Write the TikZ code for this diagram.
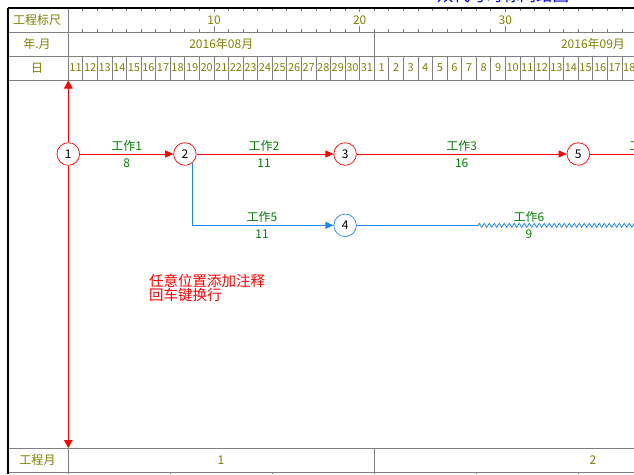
\documentclass[tikz,border=0pt]{standalone}
\usepackage{fontspec}
\setmainfont{Noto Sans CJK SC}
\usetikzlibrary{arrows.meta,decorations.pathmorphing}
\definecolor{olivec}{HTML}{808000}
\definecolor{greenc}{HTML}{008000}
\definecolor{bluec}{HTML}{1E88F0}
\definecolor{gridc}{HTML}{808080}
\definecolor{redc}{HTML}{FF0000}
\tikzset{
  gridln/.style={draw=gridc, line width=0.9pt},
  borderln/.style={draw=black, line width=1.3pt},
  hdr/.style={text=olivec, font=\fontsize{12}{12}\selectfont, inner sep=0pt},
  dayt/.style={text=olivec, font=\fontsize{11}{11}\selectfont, inner sep=0pt},
  lab/.style={text=greenc, font=\fontsize{12}{12}\selectfont, inner sep=0pt},
  evbase/.style={circle, fill=white, inner sep=0pt, minimum size=22.6pt, line width=0.8pt, font=\fontsize{12}{12}\selectfont, text=black},
  evred/.style={evbase, draw=redc, dash pattern=on 1.2pt off 0.4pt},
  evblue/.style={evbase, draw=bluec, dash pattern=on 1.2pt off 0.4pt},
  redln/.style={draw=redc, line width=1pt},
  blueln/.style={draw=bluec, line width=1pt},
  tipa/.style={-{Triangle[length=8pt,width=7pt]}},
  tipv/.style={-{Triangle[length=8pt,width=8.5pt]}},
}
\begin{document}
\begin{tikzpicture}[x=1pt,y=-1pt]
\clip (0,0) rectangle (634,474);
\fill[white] (0,0) rectangle (634,474);
\def\xo{68.3}
\def\w{14.57}
% title (clipped at top)
\node[text=blue, font=\fontsize{16.5}{16.5}\selectfont, inner sep=0pt, anchor=south] (title) at (503,2.6) {双代号时标网络图};
% header grid
\draw[gridln] (8,32) -- (634,32);
\draw[gridln] (8,56) -- (634,56);
\draw[gridln] (8,80) -- (634,80);
\draw[gridln] (\xo,8) -- (\xo,80);
\draw[gridln] (374.3,32) -- (374.3,56);
\foreach \k in {1,...,39} {
  \draw[gridln] ({\xo+\k*\w},56) -- ({\xo+\k*\w},80);
  \draw[gridln] ({\xo+\k*\w},8) -- ++(0,3);
}
\foreach \k in {1,...,9,11,12,...,19,21,22,...,29,31,32,...,39} {
  \draw[gridln] ({\xo+\k*\w},32) -- ++(0,-3);
}
\foreach \k in {10,20,30} {
  \draw[gridln] ({\xo+\k*\w},32) -- ++(0,-6);
  \draw[gridln] ({\xo+\k*\w},8) -- ++(0,4);
}
\node[hdr] (s10) at ({\xo+10*\w},20) {10};
\node[hdr] (s20) at ({\xo+20*\w},20) {20};
\node[hdr] (s30) at ({\xo+30*\w},20) {30};
\node[hdr] (h1) at (37,20) {工程标尺};
\node[hdr] (h2) at (37,44) {年.月};
\node[hdr] (h3) at (37,68) {日};
\node[hdr] (m8) at (221.3,44) {2016年08月};
\node[hdr] (m9) at (593,44) {2016年09月};
\foreach \d [count=\i from 0] in {11,12,...,31,1,2,...,18} {
  \node[dayt] (day\i) at ({\xo+(\i+0.5)*\w},68) {\d};
}
% bottom rows
\draw[gridln] (8,448.3) -- (634,448.3);
\draw[gridln] (8,472.7) -- (634,472.7);
\draw[gridln] (\xo,448.3) -- (\xo,474);
\draw[gridln] (374.3,448.3) -- (374.3,474);
\foreach \k in {7,14,28,35} {
  \draw[gridln] ({\xo+\k*\w},472.7) -- ({\xo+\k*\w},474);
}
\node[hdr] (b0) at (37.5,460.5) {工程月};
\node[hdr] (b1) at (221,460.5) {1};
\node[hdr] (b2) at (593,460.5) {2};
% outer border
\draw[borderln] (8,8) -- (634,8);
\draw[borderln] (8,8) -- (8,474);
% events
\node[evred] (n1) at (\xo,154) {1};
\node[evred] (n2) at (184.9,154) {2};
\node[evred] (n3) at (345.1,154) {3};
\node[evblue] (n4) at (345.1,225.3) {4};
\node[evred] (n5) at (578.3,154) {5};
\coordinate (top) at (\xo,80.5);
\coordinate (bot) at (\xo,448);
\coordinate (n6) at (700,154);
\coordinate (w0) at (478,225.3);
\coordinate (w1) at (640,225.3);
% vertical line through event 1
\draw[redln,tipv] (n1) -- (top);
\draw[redln,tipv] (n1) -- (bot);
% activities
\draw[redln,tipa] (n1) -- (n2);
\draw[redln,tipa] (n2) -- (n3);
\draw[redln,tipa] (n3) -- (n5);
\draw[redln] (n5) -- (n6);
\draw[blueln,tipa] (n2.-48) |- (n4);
\draw[blueln] (n4) -- (w0);
\draw[draw=bluec, line width=0.8pt, decorate, decoration={zigzag,segment length=5pt,amplitude=2pt}] (w0) -- (w1);
% labels
\node[lab] (a1) at (126.6,146) {工作1};
\node[lab] (a1d) at (126.6,163) {8};
\node[lab] (a2) at (264,146) {工作2};
\node[lab] (a2d) at (264,163) {11};
\node[lab] (a3) at (461.7,146) {工作3};
\node[lab] (a3d) at (461.7,163) {16};
\node[lab] (a4) at (645,146) {工作4};
\node[lab] (a5) at (262,217) {工作5};
\node[lab] (a5d) at (262,234) {11};
\node[lab] (a6) at (529,217) {工作6};
\node[lab] (a6d) at (529,234) {9};
% annotation
\node[text=redc, font=\fontsize{14.5}{14.5}\selectfont, inner sep=0pt, anchor=west, align=left] (note) at (149,288) {任意位置添加注释\\回车键换行};
\end{tikzpicture}
\end{document}
